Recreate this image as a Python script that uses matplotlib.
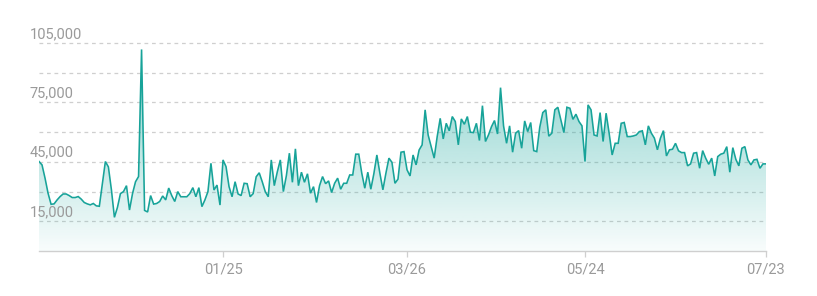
import numpy as np
import pandas as pd
import matplotlib
matplotlib.use("Agg")
import matplotlib.pyplot as plt
import matplotlib.dates as mdates
from matplotlib.patches import PathPatch

plt.rcParams['font.family'] = ['Roboto', 'DejaVu Sans']

# ---- data ----
start_date = "2023-11-25"
values_k = [
    45.2, 43.5, 36.8, 29.2, 23.6, 23.8, 25.8, 27.5, 28.8, 28.8,
    28.0, 27.0, 27.0, 27.5, 26.2, 24.5, 23.8, 23.3, 24.0, 22.8,
    22.6, 34.0, 45.2, 42.5, 31.0, 17.0, 22.0, 29.0, 30.0, 33.0,
    20.7, 29.0, 35.0, 37.6, 101.8, 20.5, 19.7, 28.0, 23.7, 24.0,
    25.0, 27.8, 25.8, 31.8, 28.0, 25.0, 30.0, 27.4, 27.4, 27.4,
    29.0, 32.0, 27.4, 32.0, 22.4, 25.8, 30.0, 44.3, 30.8, 33.3,
    23.2, 46.0, 42.6, 32.5, 27.4, 35.0, 28.8, 28.0, 34.2, 34.0,
    27.4, 29.0, 37.5, 39.5, 35.0, 30.0, 27.4, 46.0, 33.0, 40.0,
    46.0, 30.0, 38.0, 49.4, 34.7, 51.6, 33.0, 39.8, 34.7, 39.0,
    29.2, 32.5, 24.5, 33.0, 37.6, 34.0, 35.4, 29.5, 34.2, 36.8,
    31.2, 34.2, 34.2, 38.4, 38.4, 48.9, 48.9, 39.3, 31.7, 39.8,
    31.2, 39.0, 48.5, 39.3, 30.9, 39.3, 46.9, 44.8, 34.2, 36.3,
    49.9, 50.2, 41.0, 37.9, 48.5, 43.5, 51.0, 53.6, 71.3, 58.6,
    52.7, 46.9, 57.8, 67.0, 56.6, 64.5, 60.7, 67.9, 65.4, 53.6,
    66.7, 64.0, 67.9, 60.0, 59.8, 64.5, 55.8, 73.4, 55.3, 58.6,
    62.8, 65.9, 59.1, 82.5, 63.2, 54.4, 63.2, 49.9, 59.5, 60.8,
    51.9, 65.7, 60.3, 64.9, 50.7, 50.2, 62.5, 69.9, 71.3, 58.0,
    59.5, 71.3, 72.6, 66.2, 59.8, 72.6, 72.1, 66.5, 69.1, 65.4,
    63.2, 45.2, 73.8, 71.3, 58.6, 58.1, 69.9, 55.3, 69.6, 59.5,
    48.5, 54.4, 54.4, 64.5, 64.9, 57.8, 57.8, 58.1, 58.6, 60.3,
    60.7, 53.6, 63.2, 59.5, 57.0, 51.1, 57.0, 60.8, 48.0, 51.1,
    51.4, 54.4, 50.6, 49.7, 49.7, 43.0, 44.0, 49.4, 49.7, 41.8,
    50.7, 46.9, 43.8, 46.9, 37.9, 47.7, 48.9, 49.4, 52.7, 39.8,
    52.2, 46.3, 43.0, 51.9, 52.7, 46.0, 43.5, 46.0, 46.3, 41.8,
    44.0, 44.0,
]
values = np.array(values_k) * 1000
dates = pd.date_range(start_date, periods=len(values), freq="D")

x_tick_dates = ["2024-01-25", "2024-03-26", "2024-05-24", "2024-07-23"]
y_label_values = [15000, 45000, 75000, 105000]
grid_values = [15000, 30000, 45000, 60000, 75000, 90000, 105000]

# ---- style ----
line_color = "#17a399"
teal_rgb = (26 / 255, 168 / 255, 158 / 255)
grid_color = "#cfcfcf"
text_color = "#9a9a9a"

W, H = 817, 296
fig = plt.figure(figsize=(W / 100, H / 100), dpi=100)
ax_left, ax_right = 39, 766
ax_bottom_px, ax_top_px = 251, 33.2
ax = fig.add_axes([ax_left / W, (H - ax_bottom_px) / H,
                   (ax_right - ax_left) / W, (ax_bottom_px - ax_top_px) / H])

xnum = mdates.date2num(dates)
ymax = 110000

# gradient fill
poly = ax.fill_between(dates, values, 0, facecolor="none", edgecolor="none")
path = poly.get_paths()[0]
patch = PathPatch(path, transform=ax.transData, facecolor="none", edgecolor="none")
ax.add_patch(patch)
n = 256
top_val = values.max()
alphas = 0.03 + 0.5 * (np.linspace(0, top_val, n) / 100000.0)
rgba = np.zeros((n, 1, 4))
rgba[..., 0] = teal_rgb[0]
rgba[..., 1] = teal_rgb[1]
rgba[..., 2] = teal_rgb[2]
rgba[:, 0, 3] = alphas
im = ax.imshow(rgba, extent=[xnum[0], xnum[-1], 0, top_val], origin="lower",
               aspect="auto", zorder=1, interpolation="bilinear")
im.set_clip_path(patch)

# line
ax.plot(dates, values, color=line_color, lw=1.15, zorder=3, solid_joinstyle="miter")

# grid
for g in grid_values:
    ax.axhline(g, color=grid_color, lw=0.9, ls=(0, (3, 3)), zorder=0.5)

ax.set_xlim(xnum[0], xnum[-1])
ax.set_ylim(0, ymax)

# y labels (above grid lines, left of plot)
for v in y_label_values:
    ax.annotate(f"{v:,}", xy=(30 / W, v), xycoords=("figure fraction", "data"),
                xytext=(0, 3.8), textcoords="offset points",
                ha="left", va="baseline", color=text_color, fontsize=10.5,
                annotation_clip=False)
ax.set_yticks([])

# x axis
tick_nums = mdates.date2num(pd.to_datetime(x_tick_dates))
ax.set_xticks(tick_nums)
ax.set_xticklabels([pd.Timestamp(d).strftime("%m/%d") for d in x_tick_dates])
ax.tick_params(axis="x", length=4, width=0.9, color=grid_color, pad=4,
               labelcolor=text_color, labelsize=10.5)

for s in ["top", "right", "left"]:
    ax.spines[s].set_visible(False)
ax.spines["bottom"].set_color(grid_color)
ax.spines["bottom"].set_linewidth(1.0)
ax.set_facecolor("white")

fig.savefig("out.png", dpi=100, facecolor="white")
